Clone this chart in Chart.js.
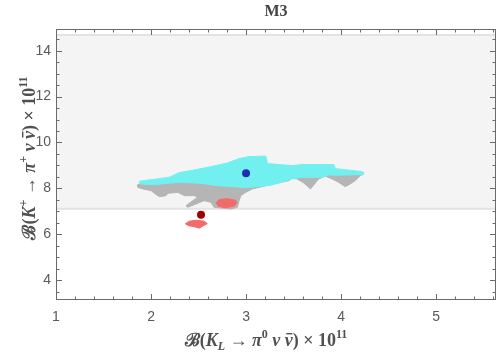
<!DOCTYPE html>
<html><head><meta charset="utf-8">
<script src="https://cdn.jsdelivr.net/npm/chart.js@4.4.1/dist/chart.umd.min.js"></script>
<style>html,body{margin:0;padding:0;background:#fff}</style>
</head><body>
<canvas id="c" width="500" height="359"></canvas>
<script>
const chartTitle = 'M3';
const xTicks = [1, 2, 3, 4, 5];
const yTicks = [4, 6, 8, 10, 12, 14];
const xRange = [1, 5.63];
const yRange = [3.13, 14.95];

const bandX = [1, 5.63, 5.63, 1];
const bandY = [14.69, 14.69, 7.11, 7.11];

const grayX = [1.859,1.984,2.298,2.927,3.555,3.869,4.079,4.235,
  4.235,4.201,4.149,4.096,4.044,3.974,3.904,3.835,3.764,3.712,3.678,3.607,3.537,3.482,3.450,3.241,3.066,2.997,2.945,2.927,2.909,2.840,2.665,2.630,2.560,2.473,2.385,2.369,2.438,2.490,2.456,2.351,2.281,2.176,2.159,2.089,2.054,2.002,1.914,1.859];
const grayY = [8.162,8.271,8.511,8.773,8.773,8.773,8.729,8.664,
  8.620,8.555,8.336,8.192,8.074,8.262,8.410,8.533,8.410,8.148,7.974,8.236,8.410,8.445,8.336,8.148,7.974,7.825,7.681,7.463,7.170,7.100,7.170,7.389,7.463,7.319,7.170,7.245,7.463,7.607,7.681,7.681,7.825,7.782,7.681,7.638,7.725,7.900,7.974,8.044];

const cyanX = [1.880,2.047,2.194,2.298,2.476,2.634,2.801,2.927,3.031,3.209,3.225,3.482,3.586,3.921,3.942,4.183,4.235,
  4.235,3.942,3.869,3.796,3.586,3.482,3.272,3.136,2.979,2.874,2.696,2.529,2.319,2.173,2.037,1.880];
const cyanY = [8.314,8.402,8.489,8.686,8.817,8.948,9.100,9.297,9.384,9.406,9.079,8.991,9.035,9.035,8.860,8.751,8.707,
  8.598,8.576,8.585,8.480,8.480,8.410,8.148,8.074,8.031,8.074,8.118,8.218,8.262,8.218,8.162,8.192];

const redUpX = [2.686,2.717,2.801,2.885,2.906,2.874,2.780,2.707];
const redUpY = [7.376,7.507,7.551,7.485,7.376,7.223,7.157,7.223];
const redLowX = [2.361,2.403,2.476,2.560,2.592,2.550,2.508,2.456,2.393];
const redLowY = [6.458,6.568,6.611,6.568,6.458,6.371,6.262,6.327,6.371];

const bluePoint = [3.00, 8.655];
const darkRedPoint = [2.526, 6.851];

function poly(xs, ys) {
  const p = xs.map((x, i) => ({x: x, y: ys[i]}));
  p.push({x: xs[0], y: ys[0]});
  return p;
}
function shape(data, fillColor, borderColor, bw, order) {
  return {data: data, showLine: true, fill: 'shape', backgroundColor: fillColor,
    borderColor: borderColor, borderWidth: bw, pointRadius: 0, tension: 0, order: order};
}

const serif = '"Liberation Serif", "DejaVu Serif", serif';
function drawRich(ctx, runs, cx, baseY) {
  let total = 0;
  runs.forEach(r => { ctx.font = r.font; r.w = ctx.measureText(r.t).width; total += r.w; });
  let x = cx - total / 2;
  ctx.textAlign = 'left';
  ctx.textBaseline = 'alphabetic';
  runs.forEach(r => {
    ctx.font = r.font;
    ctx.fillText(r.t, x, baseY + (r.dy || 0));
    if (r.bar) {
      ctx.fillRect(x + 1.5, baseY - 13, r.w - 2, 1.4);
    }
    x += r.w;
  });
}
const B = 'bold 18px ' + serif, BI = 'italic bold 18px ' + serif, SUP = 'bold 12px ' + serif, SUPI = 'italic bold 12px ' + serif;
const xTitleRuns = [
  {t: '\u212C(', font: B}, {t: 'K', font: BI}, {t: 'L', font: SUPI, dy: 4},
  {t: ' \u2192 ', font: B}, {t: '\u03C0', font: BI}, {t: '0', font: SUP, dy: -8},
  {t: ' ', font: B}, {t: '\u03BD', font: BI}, {t: ' ', font: B}, {t: '\u03BD', font: BI, bar: true},
  {t: ') \u00D7 10', font: B}, {t: '11', font: SUP, dy: -8}
];
const yTitleRuns = [
  {t: '\u212C(', font: B}, {t: 'K', font: BI}, {t: '+', font: SUP, dy: -8},
  {t: ' \u2192 ', font: B}, {t: '\u03C0', font: BI}, {t: '+', font: SUP, dy: -8},
  {t: ' ', font: B}, {t: '\u03BD', font: BI}, {t: ' ', font: B}, {t: '\u03BD', font: BI, bar: true},
  {t: ') \u00D7 10', font: B}, {t: '11', font: SUP, dy: -8}
];

const framePlugin = {
  id: 'frame',
  afterDraw(chart) {
    const ctx = chart.ctx, a = chart.chartArea, xs = chart.scales.x, ys = chart.scales.y;
    ctx.save();
    ctx.strokeStyle = '#6a6a6a';
    ctx.lineWidth = 1;
    ctx.strokeRect(a.left + 0.5, a.top + 0.5, a.right - a.left - 1, a.bottom - a.top - 1);
    ctx.beginPath();
    for (let v = 1; v <= 5.6001; v += 0.2) {
      const major = Math.abs(v - Math.round(v)) < 1e-6;
      const L = major ? 6 : 3.5;
      const px = Math.round(xs.getPixelForValue(v)) + 0.5;
      ctx.moveTo(px, a.bottom); ctx.lineTo(px, a.bottom - L);
      ctx.moveTo(px, a.top); ctx.lineTo(px, a.top + L);
    }
    for (let v = 3.5; v <= 14.5001; v += 0.5) {
      const major = Math.abs(v / 2 - Math.round(v / 2)) < 1e-6;
      const L = major ? 6 : 3.5;
      const py = Math.round(ys.getPixelForValue(v)) + 0.5;
      ctx.moveTo(a.left, py); ctx.lineTo(a.left + L, py);
      ctx.moveTo(a.right, py); ctx.lineTo(a.right - L, py);
    }
    ctx.stroke();
    // title
    ctx.fillStyle = '#444';
    ctx.font = 'bold 16px ' + serif;
    ctx.textAlign = 'center';
    ctx.textBaseline = 'alphabetic';
    ctx.fillText(chartTitle, (a.left + a.right) / 2, 16);
    // axis titles
    ctx.fillStyle = '#505050';
    drawRich(ctx, xTitleRuns, 266, 346);
    ctx.translate(35, 158);
    ctx.rotate(-Math.PI / 2);
    drawRich(ctx, yTitleRuns, 0, 0);
    ctx.restore();
  }
};

const tickFont = {family: '"Liberation Sans", Arial, sans-serif', size: 14};
new Chart(document.getElementById('c'), {
  type: 'scatter',
  data: {
    datasets: [
      {data: [{x: bluePoint[0], y: bluePoint[1]}], pointRadius: 4, pointBackgroundColor: '#1f2fb0', pointBorderWidth: 0, order: 0},
      {data: [{x: darkRedPoint[0], y: darkRedPoint[1]}], pointRadius: 4, pointBackgroundColor: '#a00000', pointBorderWidth: 0, order: 0},
      shape(poly(redUpX, redUpY), '#f26b6b', '#f26b6b', 1, 1),
      shape(poly(redLowX, redLowY), '#f26b6b', '#f26b6b', 1, 1),
      shape(poly(cyanX, cyanY), '#72f0f0', '#72f0f0', 1, 2),
      shape(poly(grayX, grayY), '#b5b5b5', '#b5b5b5', 1, 3),
      shape(poly(bandX, bandY), '#f4f4f4', '#e3e3e3', 2, 4)
    ]
  },
  options: {
    responsive: false,
    animation: false,
    layout: {padding: {top: 29, right: 2, left: 0, bottom: 0}},
    plugins: {legend: {display: false}, tooltip: {enabled: false}, title: {display: false}},
    scales: {
      x: {
        type: 'linear', min: xRange[0], max: xRange[1],
        afterFit(s) { s.height = 59; },
        afterBuildTicks(s) { s.ticks = xTicks.map(v => ({value: v})); },
        grid: {display: false, drawTicks: false},
        border: {display: false},
        ticks: {color: '#5a5a5a', font: tickFont, padding: 9, maxRotation: 0, autoSkip: false}
      },
      y: {
        type: 'linear', min: yRange[0], max: yRange[1],
        afterFit(s) { s.width = 56; },
        afterBuildTicks(s) { s.ticks = yTicks.map(v => ({value: v})); },
        grid: {display: false, drawTicks: false},
        border: {display: false},
        ticks: {color: '#5a5a5a', font: tickFont, padding: 5, autoSkip: false}
      }
    }
  },
  plugins: [framePlugin]
});
</script>
</body></html>
